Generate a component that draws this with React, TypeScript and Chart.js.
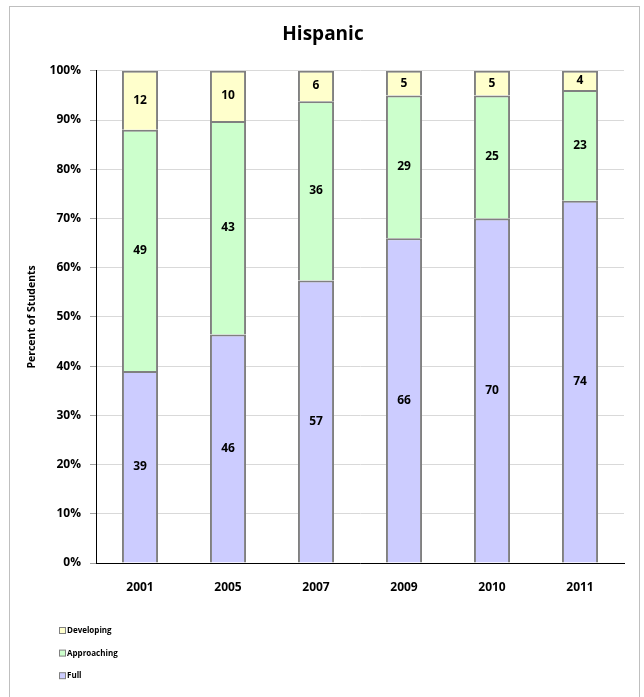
import React, { useEffect, useRef } from "react";
import { Chart, registerables } from "chart.js";

Chart.register(...registerables);

const years = ["2001", "2005", "2007", "2009", "2010", "2011"];
const fullValues = [39, 46.4, 57.4, 66, 70, 73.6];
const approachingValues = [49, 43.4, 36.4, 29, 25, 22.5];
const developingValues = [12, 10.2, 6.2, 5, 5, 3.9];
const yTicks = [0, 10, 20, 30, 40, 50, 60, 70, 80, 90, 100];

const FONT = "'Open Sans', sans-serif";

const valueLabels = {
  id: "valueLabels",
  afterDatasetsDraw(chart: any) {
    const ctx = chart.ctx;
    ctx.save();
    ctx.font = `bold 12px ${FONT}`;
    ctx.fillStyle = "#000";
    ctx.textAlign = "center";
    ctx.textBaseline = "middle";
    chart.data.datasets.forEach((ds: any, di: number) => {
      const meta = chart.getDatasetMeta(di);
      meta.data.forEach((bar: any, i: number) => {
        const v = ds.data[i];
        const y = (bar.y + bar.base) / 2;
        ctx.fillText(String(Math.round(v)), bar.x, y);
      });
    });
    ctx.restore();
  },
};

const sideLegend = {
  id: "sideLegend",
  afterDraw(chart: any) {
    const ctx = chart.ctx;
    const base = chart.chartArea.bottom;
    const ds = chart.data.datasets.slice().reverse();
    ctx.save();
    ctx.font = `bold 8px ${FONT}`;
    ctx.textBaseline = "middle";
    ctx.textAlign = "left";
    ds.forEach((d: any, i: number) => {
      const y = base + 68 + i * 22.6;
      ctx.fillStyle = d.backgroundColor;
      ctx.fillRect(59.5, y - 3.5, 6, 6);
      ctx.strokeStyle = "#808080";
      ctx.lineWidth = 1;
      ctx.strokeRect(59.5, y - 3.5, 6, 6);
      ctx.fillStyle = "#000";
      ctx.fillText(d.label, 67, y);
    });
    ctx.restore();
  },
};

export default function App() {
  const ref = useRef<HTMLCanvasElement>(null);
  useEffect(() => {
    if (!ref.current) return;
    const common = { borderColor: "#808080", borderWidth: 2, barPercentage: 0.41, categoryPercentage: 1 };
    const chart = new Chart(ref.current, {
      type: "bar",
      data: {
        labels: years,
        datasets: [
          { label: "Full", data: fullValues, backgroundColor: "#CCCCFF", ...common },
          { label: "Approaching", data: approachingValues, backgroundColor: "#CCFFCC", ...common },
          { label: "Developing", data: developingValues, backgroundColor: "#FFFFCC", ...common },
        ],
      },
      options: {
        animation: false,
        responsive: false,
        maintainAspectRatio: false,
        layout: { padding: { left: 22, right: 20, top: 0, bottom: 94 } },
        plugins: {
          legend: { display: false },
          tooltip: { enabled: false },
          title: {
            display: true,
            text: "Hispanic",
            color: "#000",
            font: { family: FONT, size: 19, weight: "bold" },
            padding: { top: 23, bottom: 25 },
          },
        },
        scales: {
          x: {
            stacked: true,
            grid: { display: false, drawTicks: false },
            border: { display: true, color: "#000", width: 1 },
            ticks: { color: "#000", padding: 17, font: { family: FONT, size: 12, weight: "bold" } },
            afterFit: (s: any) => { s.height = 40; },
          },
          y: {
            stacked: true,
            min: 0,
            max: 100,
            afterBuildTicks: (s: any) => { s.ticks = yTicks.map((v) => ({ value: v })); },
            grid: { color: "#d9d9d9", tickColor: "#a0a0a0", tickLength: 6, lineWidth: 1 },
            border: { display: true, color: "#000", width: 1 },
            ticks: {
              color: "#000",
              padding: 9,
              font: { family: FONT, size: 12, weight: "bold" },
              callback: (v: any) => v + "%",
            },
            title: {
              display: true,
              text: "Percent of Students",
              color: "#000",
              font: { family: FONT, size: 10.5, weight: "bold" },
              padding: { top: 4, bottom: 4 },
            },
            afterFit: (s: any) => { s.width = 74; },
          },
        },
      },
      plugins: [valueLabels, sideLegend],
    });
    return () => chart.destroy();
  }, []);
  return (
    <div style={{ position: "fixed", left: 0, top: 0, width: 644, height: 697, background: "#fff", overflow: "hidden" }}>
      <div style={{ position: "absolute", left: 9, top: 6, width: 631, height: 720, border: "1px solid #bfbfbf", boxSizing: "border-box" }} />
      <canvas ref={ref} width={644} height={697} style={{ position: "absolute", left: 0, top: 0, width: 644, height: 697 }} />
    </div>
  );
}
